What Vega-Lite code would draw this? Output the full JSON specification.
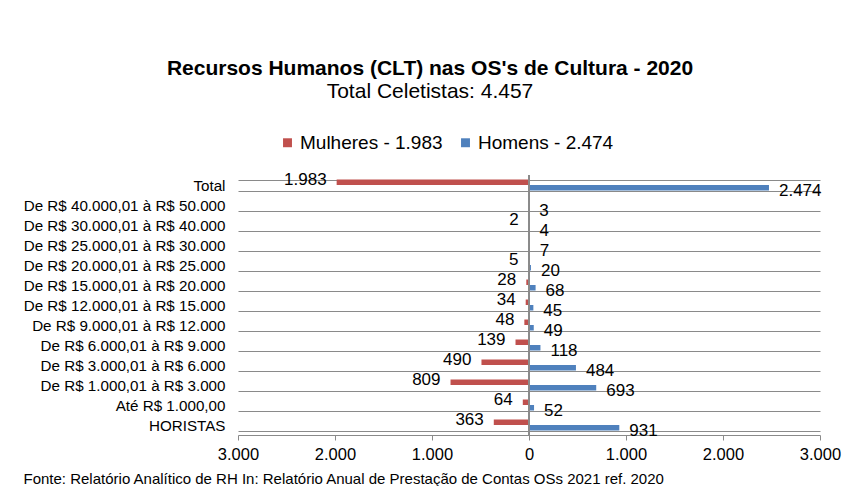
{
  "$schema": "https://vega.github.io/schema/vega-lite/v6.json",
  "autosize": {"type": "none"},
  "padding": {"left": 238, "top": 175, "right": 24, "bottom": 51},
  "width": 582,
  "height": 260,
  "background": "white",
  "config": {
    "font": "Liberation Sans",
    "locale": {"number": {"decimal": ",", "thousands": ".", "grouping": [3], "currency": ["R$ ", ""]}},
    "view": {"stroke": null}
  },
  "title": {
    "text": "Recursos Humanos (CLT) nas OS's de Cultura - 2020",
    "subtitle": "Total Celetistas: 4.457",
    "fontSize": 21,
    "fontWeight": "bold",
    "subtitleFontSize": 21,
    "color": "black",
    "subtitleColor": "black",
    "anchor": "middle",
    "frame": "group",
    "dx": -99,
    "offset": 31,
    "subtitlePadding": 2
  },
  "data": {
    "values": [
      {"faixa": "Total", "sexo": "Mulheres", "valor": 1983},
      {"faixa": "Total", "sexo": "Homens", "valor": 2474},
      {"faixa": "De R$ 40.000,01 à R$ 50.000", "sexo": "Homens", "valor": 3},
      {"faixa": "De R$ 30.000,01 à R$ 40.000", "sexo": "Mulheres", "valor": 2},
      {"faixa": "De R$ 30.000,01 à R$ 40.000", "sexo": "Homens", "valor": 4},
      {"faixa": "De R$ 25.000,01 à R$ 30.000", "sexo": "Homens", "valor": 7},
      {"faixa": "De R$ 20.000,01 à R$ 25.000", "sexo": "Mulheres", "valor": 5},
      {"faixa": "De R$ 20.000,01 à R$ 25.000", "sexo": "Homens", "valor": 20},
      {"faixa": "De R$ 15.000,01 à R$ 20.000", "sexo": "Mulheres", "valor": 28},
      {"faixa": "De R$ 15.000,01 à R$ 20.000", "sexo": "Homens", "valor": 68},
      {"faixa": "De R$ 12.000,01 à R$ 15.000", "sexo": "Mulheres", "valor": 34},
      {"faixa": "De R$ 12.000,01 à R$ 15.000", "sexo": "Homens", "valor": 45},
      {"faixa": "De R$ 9.000,01 à R$ 12.000", "sexo": "Mulheres", "valor": 48},
      {"faixa": "De R$ 9.000,01 à R$ 12.000", "sexo": "Homens", "valor": 49},
      {"faixa": "De R$ 6.000,01 à R$ 9.000", "sexo": "Mulheres", "valor": 139},
      {"faixa": "De R$ 6.000,01 à R$ 9.000", "sexo": "Homens", "valor": 118},
      {"faixa": "De R$ 3.000,01 à R$ 6.000", "sexo": "Mulheres", "valor": 490},
      {"faixa": "De R$ 3.000,01 à R$ 6.000", "sexo": "Homens", "valor": 484},
      {"faixa": "De R$ 1.000,01 à R$ 3.000", "sexo": "Mulheres", "valor": 809},
      {"faixa": "De R$ 1.000,01 à R$ 3.000", "sexo": "Homens", "valor": 693},
      {"faixa": "Até R$ 1.000,00", "sexo": "Mulheres", "valor": 64},
      {"faixa": "Até R$ 1.000,00", "sexo": "Homens", "valor": 52},
      {"faixa": "HORISTAS", "sexo": "Mulheres", "valor": 363},
      {"faixa": "HORISTAS", "sexo": "Homens", "valor": 931}
    ]
  },
  "transform": [
    {"calculate": "datum.sexo == 'Mulheres' ? -datum.valor : datum.valor", "as": "x"}
  ],
  "layer": [
    {
      "mark": {"type": "bar"},
      "encoding": {
        "y": {
          "field": "faixa", "type": "nominal",
          "sort": ["Total", "De R$ 40.000,01 à R$ 50.000", "De R$ 30.000,01 à R$ 40.000", "De R$ 25.000,01 à R$ 30.000", "De R$ 20.000,01 à R$ 25.000", "De R$ 15.000,01 à R$ 20.000", "De R$ 12.000,01 à R$ 15.000", "De R$ 9.000,01 à R$ 12.000", "De R$ 6.000,01 à R$ 9.000", "De R$ 3.000,01 à R$ 6.000", "De R$ 1.000,01 à R$ 3.000", "Até R$ 1.000,00", "HORISTAS"],
          "scale": {"paddingInner": 0.45, "paddingOuter": 0.225},
          "axis": {
            "title": null, "domain": false, "ticks": false, "grid": true, "tickBand": "extent",
            "gridColor": "#8a8a8a", "gridWidth": 1, "labelFontSize": 15.2, "labelColor": "black", "labelPadding": 13, "labelLimit": 400
          }
        },
        "yOffset": {"field": "sexo", "type": "nominal", "sort": ["Mulheres", "Homens"]},
        "x": {
          "field": "x", "type": "quantitative",
          "scale": {"domain": [-3000, 3000]},
          "axis": {
            "title": "Fonte: Relatório Analítico de RH In: Relatório Anual de Prestação de Contas OSs 2021 ref. 2020",
            "grid": false, "domain": true, "domainColor": "#8a8a8a", "ticks": true, "tickColor": "#8a8a8a", "tickSize": 5,
            "values": [-3000, -2000, -1000, 0, 1000, 2000, 3000],
            "labelExpr": "format(abs(datum.value), ',d')", "labelFlush": false, "labelOverlap": false,
            "labelFontSize": 16.5, "labelColor": "black", "labelPadding": 6,
            "titleX": -215, "titleY": 48, "titleAlign": "left", "titleAnchor": "start",
            "titleFontSize": 15, "titleFontWeight": "normal", "titleColor": "black", "titleBaseline": "alphabetic"
          }
        },
        "color": {
          "field": "sexo", "type": "nominal",
          "scale": {"domain": ["Mulheres", "Homens"], "range": ["#C0504D", "#4F81BD"]},
          "legend": {
            "title": null, "orient": "none", "legendX": 40, "legendY": -42, "direction": "horizontal",
            "symbolType": "square", "symbolSize": 80, "symbolStrokeWidth": 0, "labelFontSize": 19, "labelColor": "black",
            "columnPadding": 13, "labelOffset": 3, "labelLimit": 300,
            "labelExpr": "datum.label == 'Mulheres' ? 'Mulheres - 1.983' : 'Homens - 2.474'"
          }
        }
      }
    },
    {
      "transform": [{"filter": "datum.sexo == 'Mulheres'"}],
      "mark": {"type": "text", "align": "right", "dx": -10, "dy": -2, "fontSize": 17, "color": "black"},
      "encoding": {
        "y": {"field": "faixa", "type": "nominal", "sort": ["Total", "De R$ 40.000,01 à R$ 50.000", "De R$ 30.000,01 à R$ 40.000", "De R$ 25.000,01 à R$ 30.000", "De R$ 20.000,01 à R$ 25.000", "De R$ 15.000,01 à R$ 20.000", "De R$ 12.000,01 à R$ 15.000", "De R$ 9.000,01 à R$ 12.000", "De R$ 6.000,01 à R$ 9.000", "De R$ 3.000,01 à R$ 6.000", "De R$ 1.000,01 à R$ 3.000", "Até R$ 1.000,00", "HORISTAS"]},
        "yOffset": {"field": "sexo", "type": "nominal", "sort": ["Mulheres", "Homens"]},
        "x": {"field": "x", "type": "quantitative"},
        "text": {"field": "valor", "type": "quantitative", "format": ",d"}
      }
    },
    {
      "transform": [{"filter": "datum.sexo == 'Homens'"}],
      "mark": {"type": "text", "align": "left", "dx": 10, "dy": 3, "fontSize": 17, "color": "black"},
      "encoding": {
        "y": {"field": "faixa", "type": "nominal", "sort": ["Total", "De R$ 40.000,01 à R$ 50.000", "De R$ 30.000,01 à R$ 40.000", "De R$ 25.000,01 à R$ 30.000", "De R$ 20.000,01 à R$ 25.000", "De R$ 15.000,01 à R$ 20.000", "De R$ 12.000,01 à R$ 15.000", "De R$ 9.000,01 à R$ 12.000", "De R$ 6.000,01 à R$ 9.000", "De R$ 3.000,01 à R$ 6.000", "De R$ 1.000,01 à R$ 3.000", "Até R$ 1.000,00", "HORISTAS"]},
        "yOffset": {"field": "sexo", "type": "nominal", "sort": ["Mulheres", "Homens"]},
        "x": {"field": "x", "type": "quantitative"},
        "text": {"field": "valor", "type": "quantitative", "format": ",d"}
      }
    },
    {
      "mark": {"type": "rule", "color": "#8a8a8a", "strokeWidth": 1},
      "encoding": {"x": {"datum": 0}}
    }
  ]
}
